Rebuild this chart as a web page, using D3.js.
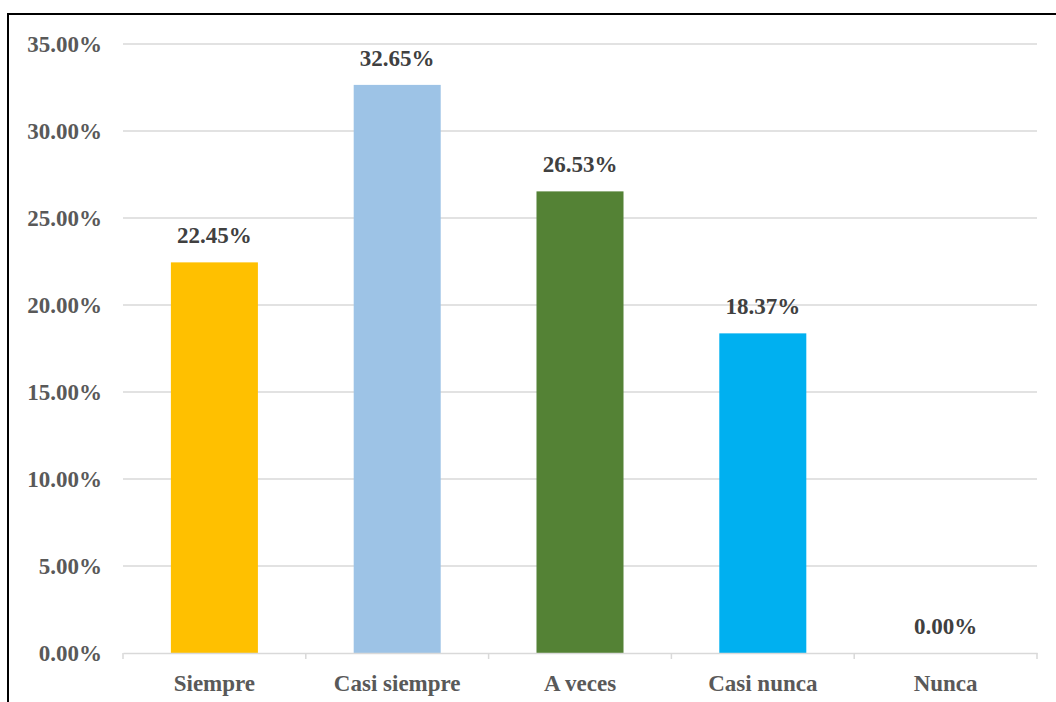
<!DOCTYPE html>
<html>
<head>
<meta charset="utf-8">
<script src="https://cdn.jsdelivr.net/npm/d3@7"></script>
<style>
  html, body { margin: 0; padding: 0; background: #fff; }
  svg { display: block; }
  text { font-family: "Liberation Serif", "Times New Roman", serif; font-weight: bold; }
</style>
</head>
<body>
<svg id="chart" width="1056" height="702"></svg>
<script>
const categories = ["Siempre", "Casi siempre", "A veces", "Casi nunca", "Nunca"];
const values = [22.45, 32.65, 26.53, 18.37, 0.00];
const colors = ["#FFC000", "#9DC3E6", "#548235", "#00B0F0", "#A5A5A5"];
const yTicks = [0, 5, 10, 15, 20, 25, 30, 35];

const svg = d3.select("#chart");
const W = 1056, H = 702;

// outer chart border
svg.append("rect")
  .attr("x", 8).attr("y", 14)
  .attr("width", 1200).attr("height", 900)
  .attr("fill", "#fff")
  .attr("stroke", "#000").attr("stroke-width", 2);

const x = d3.scaleBand().domain(categories).range([123, 1037]).paddingInner(0.524).paddingOuter(0.262);
const xOuter = d3.scaleBand().domain(categories).range([123, 1037]).padding(0);
const y = d3.scaleLinear().domain([0, 35]).range([653, 44]);

// gridlines
svg.append("g")
  .selectAll("line")
  .data(yTicks.filter(d => d > 0))
  .join("line")
  .attr("x1", 123).attr("x2", 1037)
  .attr("y1", d => y(d)).attr("y2", d => y(d))
  .attr("stroke", "#D9D9D9").attr("stroke-width", 1.5);

// y axis labels
const yAxis = d3.axisLeft(y).tickValues(yTicks).tickSize(0).tickPadding(21)
  .tickFormat(d => d3.format(".2f")(d) + "%");
const gy = svg.append("g").attr("transform", "translate(123,0)").call(yAxis);
gy.select(".domain").remove();
gy.selectAll("text")
  .attr("fill", "#595959")
  .style("font-size", "23px")
  .style("font-family", "'Liberation Serif', 'Times New Roman', serif")
  .style("font-weight", "bold");

// bars
svg.append("g")
  .selectAll("rect")
  .data(values)
  .join("rect")
  .attr("x", (d, i) => x(categories[i]))
  .attr("width", x.bandwidth())
  .attr("y", d => y(d))
  .attr("height", d => y(0) - y(d))
  .attr("fill", (d, i) => colors[i]);

// x axis
const xAxis = d3.axisBottom(xOuter).tickSize(0).tickPadding(22);
const gx = svg.append("g").attr("transform", "translate(0,653)").call(xAxis);
gx.select(".domain").attr("stroke", "#D9D9D9").attr("stroke-width", 1.5);
gx.selectAll("text")
  .attr("fill", "#595959")
  .style("font-size", "23px")
  .style("font-family", "'Liberation Serif', 'Times New Roman', serif")
  .style("font-weight", "bold");
// category boundary tick marks
const bounds = categories.map(c => xOuter(c)).concat([xOuter(categories[categories.length - 1]) + xOuter.bandwidth()]);
gx.selectAll(".bound")
  .data(bounds)
  .join("line")
  .attr("class", "bound")
  .attr("x1", d => d).attr("x2", d => d)
  .attr("y1", 0).attr("y2", 6)
  .attr("stroke", "#D9D9D9").attr("stroke-width", 1.5);

// value labels
svg.append("g")
  .selectAll("text")
  .data(values)
  .join("text")
  .attr("x", (d, i) => x(categories[i]) + x.bandwidth() / 2)
  .attr("y", d => y(d) - 19)
  .attr("text-anchor", "middle")
  .attr("fill", "#404040")
  .style("font-size", "23px")
  .text(d => d3.format(".2f")(d) + "%");
</script>
</body>
</html>
